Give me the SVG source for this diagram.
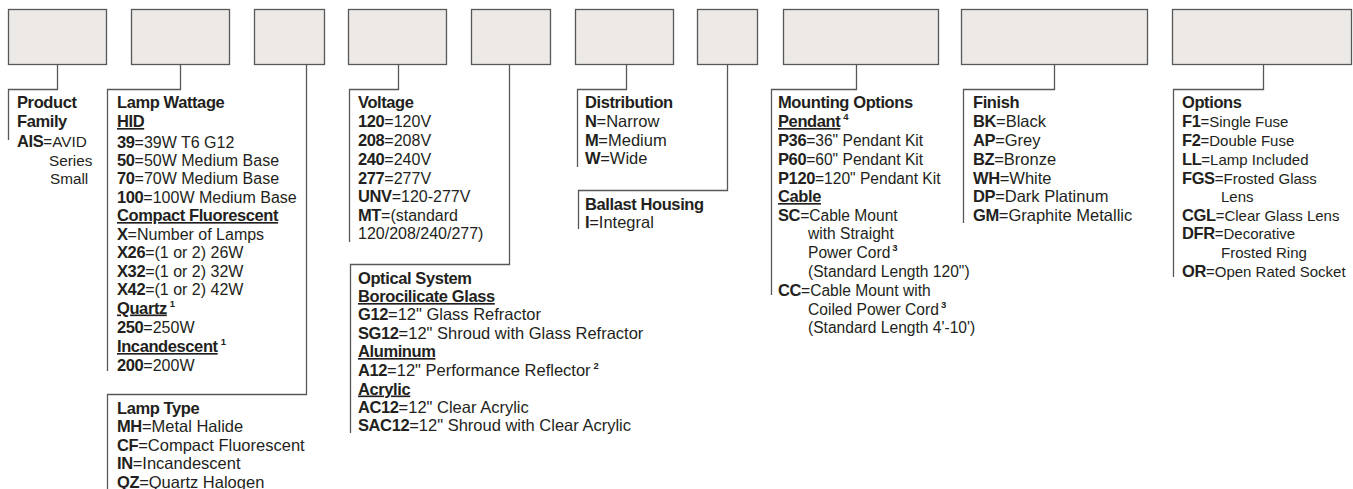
<svg xmlns="http://www.w3.org/2000/svg" width="1353" height="489" viewBox="0 0 1353 489">
<style>
.box{fill:#ece9e6;stroke:#58585a;stroke-width:1.3}
.con{fill:none;stroke:#58585a;stroke-width:1.3}
text{font-family:"Liberation Sans",Arial,sans-serif;font-size:16.5px;fill:#231f20}
#product-family text{font-size:15.3px}
#lamp-wattage text,#voltage text{font-size:16px}
#mounting-options text{font-size:15.6px}
#options text{font-size:15px}
.b{font-weight:bold;letter-spacing:-0.4px;font-size:16.5px}
.u{text-decoration:underline}
.sup{font-size:9.5px;font-weight:bold}
</style>
<rect width="1353" height="489" fill="#ffffff"/>
<g id="boxes">
<rect id="box-product" class="box" x="8.5" y="9.5" width="98" height="55"/>
<rect id="box-wattage" class="box" x="131.5" y="9.5" width="98" height="55"/>
<rect id="box-lamptype" class="box" x="254.5" y="9.5" width="70" height="55"/>
<rect id="box-voltage" class="box" x="348.5" y="9.5" width="98" height="55"/>
<rect id="box-optical" class="box" x="471.5" y="9.5" width="79" height="55"/>
<rect id="box-distribution" class="box" x="575.5" y="9.5" width="98" height="55"/>
<rect id="box-ballast" class="box" x="697.5" y="9.5" width="60" height="55"/>
<rect id="box-mounting" class="box" x="783.5" y="9.5" width="155" height="55"/>
<rect id="box-finish" class="box" x="961.5" y="9.5" width="186" height="55"/>
<rect id="box-options" class="box" x="1172.5" y="9.5" width="179" height="55"/>
</g>
<g id="connectors">
<path class="con" d="M57.5 64.5V89.5H8.5V140"/>
<path class="con" d="M180.5 64.5V89.5H107.5V371"/>
<path class="con" d="M306.5 64.5V394.5H107.5V489"/>
<path class="con" d="M398.5 64.5V89.5H349.5V242"/>
<path class="con" d="M509.5 64.5V264.5H350.5V433"/>
<path class="con" d="M626.5 64.5V89.5H577.5V167"/>
<path class="con" d="M727.5 64.5V190.5H578.5V229"/>
<path class="con" d="M856.5 64.5V89.5H771.5V295"/>
<path class="con" d="M1054.5 64.5V89.5H963.5V223"/>
<path class="con" d="M1263.5 64.5V89.5H1173.5V277"/>
</g>
<g id="product-family">
<text x="17" y="108"><tspan class="b">Product</tspan></text>
<text x="17" y="127"><tspan class="b">Family</tspan></text>
<text x="17" y="147"><tspan class="b">AIS</tspan>=AVID</text>
<text x="49" y="165.5">Series</text>
<text x="50" y="184">Small</text>
</g>
<g id="lamp-wattage">
<text x="117" y="108"><tspan class="b">Lamp Wattage</tspan></text>
<text x="117" y="127"><tspan class="b u">HID</tspan></text>
<text x="117" y="147.5"><tspan class="b">39</tspan>=39W T6 G12</text>
<text x="117" y="165.5"><tspan class="b">50</tspan>=50W Medium Base</text>
<text x="117" y="184"><tspan class="b">70</tspan>=70W Medium Base</text>
<text x="117" y="202.5"><tspan class="b">100</tspan>=100W Medium Base</text>
<text x="117" y="221"><tspan class="b u">Compact Fluorescent</tspan></text>
<text x="117" y="239.5"><tspan class="b">X</tspan>=Number of Lamps</text>
<text x="117" y="258"><tspan class="b">X26</tspan>=(1 or 2) 26W</text>
<text x="117" y="276.5"><tspan class="b">X32</tspan>=(1 or 2) 32W</text>
<text x="117" y="295"><tspan class="b">X42</tspan>=(1 or 2) 42W</text>
<text x="117" y="313.5"><tspan class="b u">Quartz</tspan><tspan class="sup" dx="3" dy="-7">1</tspan></text>
<text x="117" y="333"><tspan class="b">250</tspan>=250W</text>
<text x="117" y="352"><tspan class="b u">Incandescent</tspan><tspan class="sup" dx="3" dy="-7">1</tspan></text>
<text x="117" y="370.5"><tspan class="b">200</tspan>=200W</text>
</g>
<g id="lamp-type">
<text x="117" y="413.5"><tspan class="b">Lamp Type</tspan></text>
<text x="117" y="431.5"><tspan class="b">MH</tspan>=Metal Halide</text>
<text x="117" y="450.5"><tspan class="b">CF</tspan>=Compact Fluorescent</text>
<text x="117" y="468.5"><tspan class="b">IN</tspan>=Incandescent</text>
<text x="117" y="487.5"><tspan class="b">QZ</tspan>=Quartz Halogen</text>
</g>
<g id="voltage">
<text x="358" y="108"><tspan class="b">Voltage</tspan></text>
<text x="358" y="127"><tspan class="b">120</tspan>=120V</text>
<text x="358" y="146"><tspan class="b">208</tspan>=208V</text>
<text x="358" y="165"><tspan class="b">240</tspan>=240V</text>
<text x="358" y="184"><tspan class="b">277</tspan>=277V</text>
<text x="358" y="202"><tspan class="b">UNV</tspan>=120-277V</text>
<text x="358" y="221"><tspan class="b">MT</tspan>=(standard</text>
<text x="358" y="239">120/208/240/277)</text>
</g>
<g id="optical-system">
<text x="358" y="284"><tspan class="b">Optical System</tspan></text>
<text x="358" y="302"><tspan class="b u">Borocilicate Glass</tspan></text>
<text x="358" y="320"><tspan class="b">G12</tspan>=12" Glass Refractor</text>
<text x="358" y="338.5"><tspan class="b">SG12</tspan>=12" Shroud with Glass Refractor</text>
<text x="358" y="357"><tspan class="b u">Aluminum</tspan></text>
<text x="358" y="375.5"><tspan class="b">A12</tspan>=12" Performance Reflector<tspan class="sup" dx="3" dy="-7">2</tspan></text>
<text x="358" y="394.5"><tspan class="b u">Acrylic</tspan></text>
<text x="358" y="412.5"><tspan class="b">AC12</tspan>=12" Clear Acrylic</text>
<text x="358" y="431"><tspan class="b">SAC12</tspan>=12" Shroud with Clear Acrylic</text>
</g>
<g id="distribution">
<text x="585" y="108"><tspan class="b">Distribution</tspan></text>
<text x="585" y="127"><tspan class="b">N</tspan>=Narrow</text>
<text x="585" y="146"><tspan class="b">M</tspan>=Medium</text>
<text x="585" y="164"><tspan class="b">W</tspan>=Wide</text>
</g>
<g id="ballast-housing">
<text x="585" y="209.5"><tspan class="b">Ballast Housing</tspan></text>
<text x="585" y="228"><tspan class="b">I</tspan>=Integral</text>
</g>
<g id="mounting-options">
<text x="778" y="108"><tspan class="b">Mounting Options</tspan></text>
<text x="778" y="127"><tspan class="b u">Pendant</tspan><tspan class="sup" dx="3" dy="-7">4</tspan></text>
<text x="778" y="146"><tspan class="b">P36</tspan>=36" Pendant Kit</text>
<text x="778" y="164.5"><tspan class="b">P60</tspan>=60" Pendant Kit</text>
<text x="778" y="184"><tspan class="b">P120</tspan>=120" Pendant Kit</text>
<text x="778" y="202"><tspan class="b u">Cable</tspan></text>
<text x="778" y="220.5"><tspan class="b">SC</tspan>=Cable Mount</text>
<text x="808" y="239">with Straight</text>
<text x="808" y="258">Power Cord<tspan class="sup" dx="2" dy="-7">3</tspan></text>
<text x="808" y="277">(Standard Length 120")</text>
<text x="778" y="295.5"><tspan class="b">CC</tspan>=Cable Mount with</text>
<text x="808" y="315">Coiled Power Cord<tspan class="sup" dx="2" dy="-7">3</tspan></text>
<text x="808" y="333">(Standard Length 4'-10')</text>
</g>
<g id="finish">
<text x="973" y="108"><tspan class="b">Finish</tspan></text>
<text x="973" y="127"><tspan class="b">BK</tspan>=Black</text>
<text x="973" y="146"><tspan class="b">AP</tspan>=Grey</text>
<text x="973" y="164.5"><tspan class="b">BZ</tspan>=Bronze</text>
<text x="973" y="184"><tspan class="b">WH</tspan>=White</text>
<text x="973" y="202"><tspan class="b">DP</tspan>=Dark Platinum</text>
<text x="973" y="220.5"><tspan class="b">GM</tspan>=Graphite Metallic</text>
</g>
<g id="options">
<text x="1182" y="108"><tspan class="b">Options</tspan></text>
<text x="1182" y="127"><tspan class="b">F1</tspan>=Single Fuse</text>
<text x="1182" y="146"><tspan class="b">F2</tspan>=Double Fuse</text>
<text x="1182" y="164.5"><tspan class="b">LL</tspan>=Lamp Included</text>
<text x="1182" y="184"><tspan class="b">FGS</tspan>=Frosted Glass</text>
<text x="1221" y="202">Lens</text>
<text x="1182" y="220.5"><tspan class="b">CGL</tspan>=Clear Glass Lens</text>
<text x="1182" y="239"><tspan class="b">DFR</tspan>=Decorative</text>
<text x="1221" y="258">Frosted Ring</text>
<text x="1182" y="277"><tspan class="b">OR</tspan>=Open Rated Socket</text>
</g>
</svg>
